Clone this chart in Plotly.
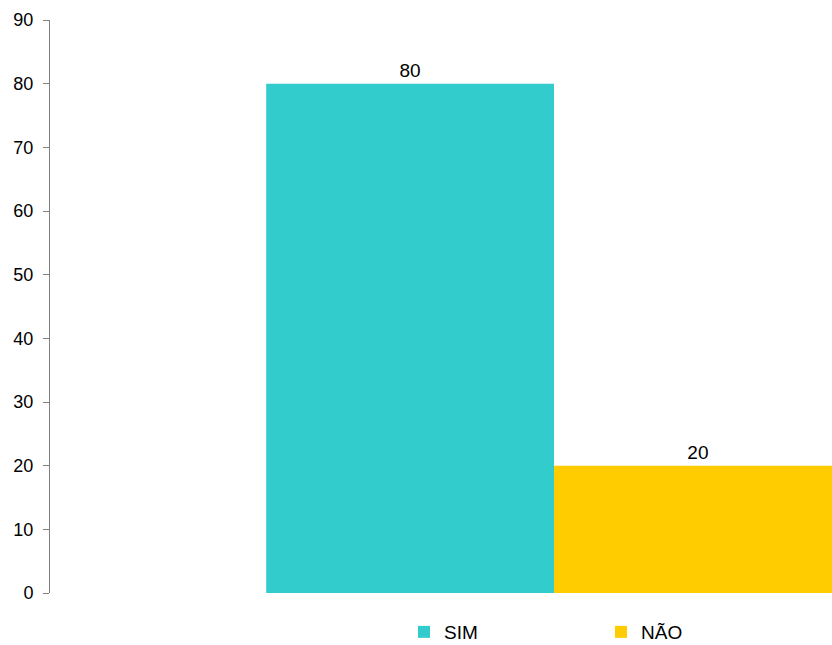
import plotly.graph_objects as go

category = [""]
series_names = ["SIM", "NÃO"]
sim_values = [80]
nao_values = [20]
colors = ["#33CCCC", "#FFCC00"]
y_ticks = [0, 10, 20, 30, 40, 50, 60, 70, 80, 90]

FONT = "Liberation Sans, Arial, sans-serif"

fig = go.Figure()
for name, vals, col in zip(series_names, [sim_values, nao_values], colors):
    fig.add_trace(go.Bar(
        x=category, y=vals, name=name,
        marker=dict(color=col, line=dict(width=0)),
        text=vals, textposition="outside", cliponaxis=False,
        textfont=dict(family=FONT, size=19, color="#000000"),
    ))

fig.update_layout(
    width=832, height=645,
    margin=dict(l=50, r=0, t=20, b=51.5, autoexpand=False),
    paper_bgcolor="white", plot_bgcolor="white",
    barmode="group", bargap=0.429, bargroupgap=0,
    font=dict(family=FONT, size=18, color="#000000"),
    showlegend=True,
    legend=dict(orientation="h", xref="container", yref="container",
                x=404/832, y=13/645, xanchor="left", yanchor="middle",
                entrywidth=152, font=dict(size=19, family=FONT),
                traceorder="normal", bgcolor="rgba(0,0,0,0)"),
    xaxis=dict(type="category", range=[-0.5, 0.2758], showline=False,
               showticklabels=False, ticks="", showgrid=False, zeroline=False),
    yaxis=dict(range=[0, 90], tickvals=y_ticks, showline=True, linecolor="#808080",
               linewidth=1, ticks="outside", ticklen=6, tickcolor="#808080",
               showgrid=False, zeroline=False, ticklabelstandoff=6,
               tickfont=dict(family=FONT, size=18, color="#000000")),
)

fig.write_html("out.html")
